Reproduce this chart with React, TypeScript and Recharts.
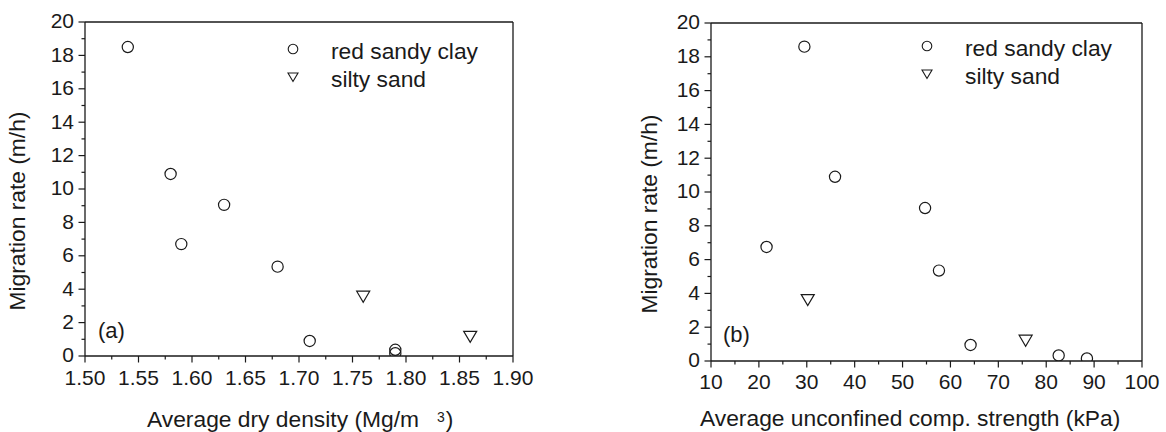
import React from 'react';
import { ScatterChart, Scatter, XAxis, YAxis, ReferenceLine, Legend } from 'recharts';

const FONT = '"Liberation Sans", Arial, Helvetica, sans-serif';
const INK = '#1a1a1a';

// Tick labels (major ticks)
const densityTicks = [1.5, 1.55, 1.6, 1.65, 1.7, 1.75, 1.8, 1.85, 1.9];
const strengthTicks = [10, 20, 30, 40, 50, 60, 70, 80, 90, 100];
const rateTicks = [0, 2, 4, 6, 8, 10, 12, 14, 16, 18, 20];

// Panel (a): migration rate vs average dry density
const clayDensity = [1.54, 1.58, 1.59, 1.63, 1.68, 1.71, 1.79, 1.79];
const clayRateA = [18.5, 10.9, 6.7, 9.05, 5.35, 0.9, 0.37, 0.17];
const sandDensity = [1.76, 1.86];
const sandRateA = [3.55, 1.15];

// Panel (b): migration rate vs average unconfined compressive strength
const clayStrength = [29.5, 35.9, 21.6, 54.7, 57.6, 64.2, 82.6, 88.5];
const clayRateB = [18.6, 10.9, 6.75, 9.05, 5.35, 0.95, 0.33, 0.15];
const sandStrength = [30.2, 75.7];
const sandRateB = [3.6, 1.2];

const SERIES_CLAY = 'red sandy clay';
const SERIES_SAND = 'silty sand';

const withMinor = (majors: number[]) => {
  const out: number[] = [];
  majors.forEach((v, i) => {
    out.push(v);
    if (i < majors.length - 1) out.push((v + majors[i + 1]) / 2);
  });
  return out;
};

const pairs = (xs: number[], ys: number[]) => xs.map((x, i) => ({ x, y: ys[i] }));

const makeYTick = (majors: number[]) => (props: any) => {
  const { x, y, payload } = props;
  const major = majors.includes(payload.value);
  return (
    <g>
      <line x1={x} x2={x - (major ? 6.5 : 3.5)} y1={y} y2={y} stroke={INK} strokeWidth={1.2} />
      {major && (
        <text x={x - 11} y={y} dy="0.3em" textAnchor="end" fontSize={21} fontFamily={FONT} fill={INK}>
          {payload.value}
        </text>
      )}
    </g>
  );
};

const makeXTick = (majors: number[], digits: number, labelDy: number) => (props: any) => {
  const { x, y, payload } = props;
  const major = majors.includes(payload.value);
  return (
    <g>
      <line x1={x} x2={x} y1={y} y2={y + (major ? 6.5 : 3.5)} stroke={INK} strokeWidth={1.2} />
      {major && (
        <text x={x} y={y + labelDy} textAnchor="middle" fontSize={21} fontFamily={FONT} fill={INK}>
          {payload.value.toFixed(digits)}
        </text>
      )}
    </g>
  );
};

const CircleMark = (p: any) => (
  <circle cx={p.cx} cy={p.cy} r={5.6} fill="none" stroke={INK} strokeWidth={1.2} />
);
const TriangleMark = (p: any) => (
  <path
    d={`M${p.cx - 6.5},${p.cy - 5.5} L${p.cx + 6.5},${p.cy - 5.5} L${p.cx},${p.cy + 5.5} Z`}
    fill="none"
    stroke={INK}
    strokeWidth={1.2}
    strokeLinejoin="miter"
  />
);

const LegendBox = () => (
  <svg width={240} height={62} style={{ display: 'block' }}>
    <circle cx={13} cy={17} r={4.8} fill="none" stroke={INK} strokeWidth={1.1} />
    <text x={51} y={26.5} fontSize={22.8} fontFamily={FONT} fill={INK}>{SERIES_CLAY}</text>
    <path d="M8,41 L18,41 L13,49.5 Z" fill="none" stroke={INK} strokeWidth={1.1} />
    <text x={51} y={54.5} fontSize={22.8} fontFamily={FONT} fill={INK}>{SERIES_SAND}</text>
  </svg>
);

const yTitle = (dx: number, dyCenter: number) => (props: any) => {
  const vb = props.viewBox || {};
  const x = vb.x + dx;
  const y = vb.y + vb.height / 2 + dyCenter;
  return (
    <text
      x={x}
      y={y}
      transform={`rotate(-90, ${x}, ${y})`}
      textAnchor="middle"
      fontSize={22.8}
      fontFamily={FONT}
      fill={INK}
    >
      Migration rate (m/h)
    </text>
  );
};

const xTitleA = (props: any) => {
  const vb = props.viewBox || {};
  return (
    <text x={vb.x + 62} y={vb.y + 71} fontSize={22.8} fontFamily={FONT} fill={INK}>
      Average dry density (Mg/m
      <tspan dx={18} dy={-5.5} fontSize={14}>3</tspan>
      <tspan dx={1} dy={5.5}>)</tspan>
    </text>
  );
};

const xTitleB = (props: any) => {
  const vb = props.viewBox || {};
  return (
    <text x={vb.x - 11} y={vb.y + 64.5} fontSize={22.8} fontFamily={FONT} fill={INK}>
      Average unconfined comp. strength (kPa)
    </text>
  );
};

const axisLine = { stroke: INK, strokeWidth: 1.3 };

export default function App() {
  return (
    <div style={{ position: 'absolute', left: 0, top: 0, width: 1166, height: 432, background: '#fff' }}>
      <div style={{ position: 'absolute', left: 0, top: 0 }}>
        <ScatterChart width={583} height={432} margin={{ top: 22, right: 70, bottom: 0, left: 25 }}>
          <XAxis
            type="number"
            dataKey="x"
            domain={[1.5, 1.9]}
            allowDataOverflow
            ticks={withMinor(densityTicks)}
            interval={0}
            tickSize={0}
            tickMargin={0}
            tickLine={false}
            tick={makeXTick(densityTicks, 2, 29)}
            axisLine={axisLine}
            height={76}
            label={xTitleA}
          />
          <YAxis
            type="number"
            dataKey="y"
            domain={[0, 20]}
            allowDataOverflow
            ticks={withMinor(rateTicks)}
            interval={0}
            tickSize={0}
            tickMargin={0}
            tickLine={false}
            tick={makeYTick(rateTicks)}
            axisLine={axisLine}
            width={60}
            label={yTitle(0, 22)}
          />
          <ReferenceLine y={20} stroke={INK} strokeWidth={1.3} />
          <ReferenceLine x={1.9} stroke={INK} strokeWidth={1.3} />
          <Scatter name={SERIES_CLAY} data={pairs(clayDensity, clayRateA)} shape={CircleMark} isAnimationActive={false} />
          <Scatter name={SERIES_SAND} data={pairs(sandDensity, sandRateA)} shape={TriangleMark} isAnimationActive={false} />
          <Legend
            layout="vertical"
            align="center"
            verticalAlign="middle"
            wrapperStyle={{ left: 280, top: 32, width: 240, height: 62 }}
            content={() => <LegendBox />}
          />
        </ScatterChart>
        <svg width={583} height={432} style={{ position: 'absolute', left: 0, top: 0, pointerEvents: 'none' }}>
          <text x={98} y={338} fontSize={22} fontFamily={FONT} fill={INK}>(a)</text>
        </svg>
      </div>
      <div style={{ position: 'absolute', left: 583, top: 0 }}>
        <ScatterChart width={583} height={432} margin={{ top: 23, right: 24, bottom: 0, left: 68 }}>
          <XAxis
            type="number"
            dataKey="x"
            domain={[10, 100]}
            allowDataOverflow
            ticks={withMinor(strengthTicks)}
            interval={0}
            tickSize={0}
            tickMargin={0}
            tickLine={false}
            tick={makeXTick(strengthTicks, 0, 27.5)}
            axisLine={axisLine}
            height={71}
            label={xTitleB}
          />
          <YAxis
            type="number"
            dataKey="y"
            domain={[0, 20]}
            allowDataOverflow
            ticks={withMinor(rateTicks)}
            interval={0}
            tickSize={0}
            tickMargin={0}
            tickLine={false}
            tick={makeYTick(rateTicks)}
            axisLine={axisLine}
            width={60}
            label={yTitle(6, 22)}
          />
          <ReferenceLine y={20} stroke={INK} strokeWidth={1.3} />
          <ReferenceLine x={100} stroke={INK} strokeWidth={1.3} />
          <Scatter name={SERIES_CLAY} data={pairs(clayStrength, clayRateB)} shape={CircleMark} isAnimationActive={false} />
          <Scatter name={SERIES_SAND} data={pairs(sandStrength, sandRateB)} shape={TriangleMark} isAnimationActive={false} />
          <Legend
            layout="vertical"
            align="center"
            verticalAlign="middle"
            wrapperStyle={{ left: 331, top: 29, width: 240, height: 62 }}
            content={() => <LegendBox />}
          />
        </ScatterChart>
        <svg width={583} height={432} style={{ position: 'absolute', left: 0, top: 0, pointerEvents: 'none' }}>
          <text x={140} y={342} fontSize={22} fontFamily={FONT} fill={INK}>(b)</text>
        </svg>
      </div>
    </div>
  );
}
